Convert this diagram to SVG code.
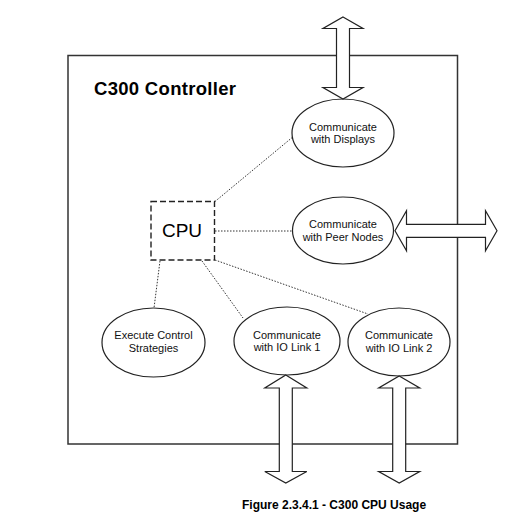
<svg xmlns="http://www.w3.org/2000/svg" width="530" height="525" viewBox="0 0 530 525">
<style>
.lbl{font-family:"Liberation Sans",Arial,sans-serif;font-size:11px;fill:#111;text-anchor:middle}
.node{fill:#fff;stroke:#222;stroke-width:1.2}
.dot{stroke:#333;stroke-width:1;stroke-dasharray:1.5,1.5;fill:none}
.barrow{fill:#fff;stroke:#222;stroke-width:1.2;stroke-linejoin:miter}
</style>
<rect width="530" height="525" fill="#fff"/>
<g id="controller">
<rect x="68" y="55.5" width="389.5" height="388.5" fill="none" stroke="#333" stroke-width="1.5"/>
<text x="94" y="95" font-family="'Liberation Sans',Arial,sans-serif" font-size="18.5" font-weight="bold" letter-spacing="0.3" fill="#000">C300 Controller</text>
</g>
<g id="connectors">
<line class="dot" x1="215" y1="201.5" x2="294" y2="136"/>
<line class="dot" x1="215" y1="231" x2="292.5" y2="231"/>
<line class="dot" x1="160" y1="261" x2="154" y2="308"/>
<line class="dot" x1="202" y1="261" x2="243" y2="318"/>
<line class="dot" x1="215" y1="260" x2="368" y2="314"/>
</g>
<g id="cpu">
<rect x="151" y="201.5" width="63.5" height="58.5" fill="#fff" stroke="#222" stroke-width="1.4" stroke-dasharray="6,3"/>
<text x="182" y="237" font-family="'Liberation Sans',Arial,sans-serif" font-size="19" text-anchor="middle" fill="#000">CPU</text>
</g>
<g id="displays">
<ellipse class="node" cx="343" cy="133" rx="51" ry="34"/>
<text class="lbl" x="343" y="131">Communicate</text>
<text class="lbl" x="343" y="143">with Displays</text>
</g>
<g id="peer">
<ellipse class="node" cx="343" cy="230.5" rx="50.5" ry="33.5"/>
<text class="lbl" x="343" y="228">Communicate</text>
<text class="lbl" x="343" y="241">with Peer Nodes</text>
</g>
<g id="execute">
<ellipse class="node" cx="153.5" cy="342.5" rx="51.5" ry="34.5"/>
<text class="lbl" x="153.5" y="338.5">Execute Control</text>
<text class="lbl" x="153.5" y="351.5">Strategies</text>
</g>
<g id="iolink1">
<ellipse class="node" cx="287" cy="341" rx="53" ry="34"/>
<text class="lbl" x="287" y="338.5">Communicate</text>
<text class="lbl" x="287" y="351">with IO Link 1</text>
</g>
<g id="iolink2">
<ellipse class="node" cx="399" cy="342" rx="51" ry="34"/>
<text class="lbl" x="399" y="339">Communicate</text>
<text class="lbl" x="399" y="352">with IO Link 2</text>
</g>
<g id="arrows">
<polygon class="barrow" points="343,17 363,28.5 349.5,28.5 349.5,87.5 363,87.5 343,99 323,87.5 336.5,87.5 336.5,28.5 323,28.5"/>
<polygon class="barrow" points="395,230.8 406.5,210.8 406.5,224.3 485.5,224.3 485.5,210.8 497,230.8 485.5,250.8 485.5,237.3 406.5,237.3 406.5,250.8"/>
<polygon class="barrow" points="285.8,375 306.8,388 292.3,388 292.3,471.5 306.8,471.5 285.8,483 264.8,471.5 279.3,471.5 279.3,388 264.8,388"/>
<polygon class="barrow" points="399.2,376 419.7,388 405.7,388 405.7,471.5 419.7,471.5 399.2,483 378.7,471.5 392.7,471.5 392.7,388 378.7,388"/>
</g>
<g id="caption">
<text x="242" y="509" font-family="'Liberation Sans',Arial,sans-serif" font-size="12" font-weight="bold" fill="#000">Figure 2.3.4.1 - C300 CPU Usage</text>
</g>
</svg>
